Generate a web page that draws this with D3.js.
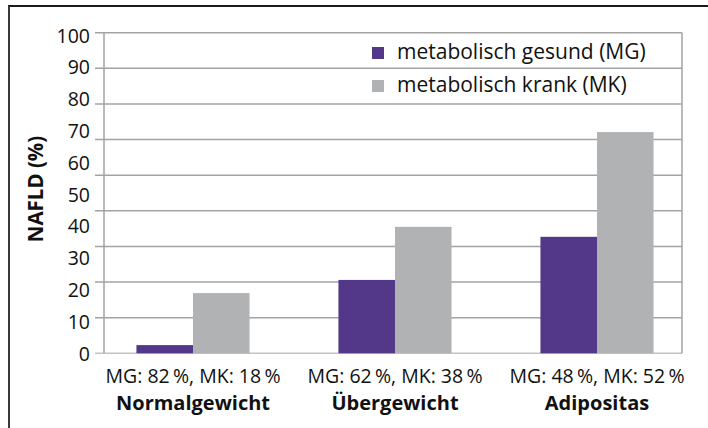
<!DOCTYPE html>
<html>
<head>
<meta charset="utf-8">
<script src="https://cdn.jsdelivr.net/npm/d3@7"></script>
<style>
	body { margin: 0; background: #fff; }
	svg { display: block; font-family: 'Open Sans', 'Noto Sans', sans-serif; }
</style>
</head>
<body>
<div id="chart"></div>
<script>
let WIDTH = 708;
let HEIGHT = 428;

let categories = ['Normalgewicht', 'Übergewicht', 'Adipositas'];
let shareLabels = ['MG: 82\u2009%, MK: 18\u2009%', 'MG: 62\u2009%, MK: 38\u2009%', 'MG: 48\u2009%, MK: 52\u2009%'];
let seriesNames = ['metabolisch gesund (MG)', 'metabolisch krank (MK)'];
let seriesColors = ['#533788', '#b1b2b4'];
let valuesMG = [2.3, 20.6, 32.7];
let valuesMK = [16.9, 35.5, 62.1];
let gridValues = [0, 10, 20, 30, 40, 50, 60, 70, 80, 90];
let tickLabels = [0, 10, 20, 30, 40, 50, 60, 70, 80, 90, 100];

let svg = d3.select('#chart').append('svg')
	.attr('width', WIDTH)
	.attr('height', HEIGHT);

// outer frame (top + left edges visible)
svg.append('line')
	.attr('x1', 8).attr('x2', WIDTH).attr('y1', 6).attr('y2', 6)
	.attr('stroke', '#1a1a1a').attr('stroke-width', 2);
svg.append('line')
	.attr('x1', 9).attr('x2', 9).attr('y1', 6).attr('y2', HEIGHT)
	.attr('stroke', '#3a3a3a').attr('stroke-width', 2);

let plotLeft = 104;
let plotRight = 682;

// bars + gridlines use the 0..90 scale, labels are spread 0..100
let y = d3.scaleLinear().domain([0, 90]).range([353.3, 32.7]);
let yLabel = d3.scaleLinear().domain([0, 100]).range([353, 35]);

let x = d3.scaleBand()
	.domain(categories)
	.range([92, 698])
	.paddingInner(0.44)
	.paddingOuter(0.22);

let xSub = d3.scaleBand()
	.domain(seriesNames)
	.range([0, x.bandwidth()]);

// gridlines with short ticks on the left
let grid = svg.append('g').attr('class', 'grid');
grid.selectAll('line')
	.data(gridValues)
	.enter().append('line')
	.attr('x1', 95)
	.attr('x2', plotRight)
	.attr('y1', (d) => y(d))
	.attr('y2', (d) => y(d))
	.attr('stroke', (d) => d === 0 ? '#c4c4c4' : '#a3a3a3')
	.attr('stroke-width', 1.5);

svg.append('line')
	.attr('x1', plotLeft).attr('x2', plotLeft)
	.attr('y1', y(90)).attr('y2', y(0))
	.attr('stroke', '#a3a3a3').attr('stroke-width', 1.5);
svg.append('line')
	.attr('x1', plotRight).attr('x2', plotRight)
	.attr('y1', y(90)).attr('y2', y(0))
	.attr('stroke', '#a3a3a3').attr('stroke-width', 1.5);

// y labels
let yAxis = d3.axisLeft(yLabel)
	.tickValues(tickLabels)
	.tickSize(0)
	.tickPadding(0);
let yg = svg.append('g')
	.attr('transform', 'translate(90,0)')
	.call(yAxis);
yg.select('.domain').remove();
yg.selectAll('text')
	.attr('font-family', "'Open Sans', sans-serif")
	.attr('font-size', 19.5)
	.attr('fill', '#111')
	.attr('dy', '0.36em');

// bars
let data = categories.map((c, i) => ({cat: c, values: [valuesMG[i], valuesMK[i]]}));
let group = svg.selectAll('.group')
	.data(data)
	.enter().append('g')
	.attr('class', 'group')
	.attr('transform', (d) => 'translate(' + x(d.cat) + ',0)');

group.selectAll('rect')
	.data((d) => d.values.map((v, j) => ({name: seriesNames[j], value: v, color: seriesColors[j]})))
	.enter().append('rect')
	.attr('x', (d) => xSub(d.name))
	.attr('width', xSub.bandwidth())
	.attr('y', (d) => y(d.value))
	.attr('height', (d) => y(0) - y(d.value))
	.attr('fill', (d) => d.color);

// category labels
svg.selectAll('.share')
	.data(categories)
	.enter().append('text')
	.attr('class', 'share')
	.attr('x', (d) => x(d) + x.bandwidth() / 2)
	.attr('y', 383)
	.attr('text-anchor', 'middle')
	.attr('font-size', 19.5)
	.attr('fill', '#111')
	.text((d, i) => shareLabels[i]);

svg.selectAll('.cat')
	.data(categories)
	.enter().append('text')
	.attr('class', 'cat')
	.attr('x', (d) => x(d) + x.bandwidth() / 2)
	.attr('y', 410)
	.attr('text-anchor', 'middle')
	.attr('font-size', 20)
	.attr('font-weight', 'bold')
	.attr('fill', '#111')
	.text((d) => d);

// y title
svg.append('text')
	.attr('transform', 'translate(43,189) rotate(-90)')
	.attr('text-anchor', 'middle')
	.attr('font-size', 20.5)
	.attr('font-weight', 'bold')
	.attr('fill', '#111')
	.text('NAFLD (%)');

// legend
let legend = svg.selectAll('.legend')
	.data(seriesNames)
	.enter().append('g')
	.attr('class', 'legend')
	.attr('transform', (d, i) => 'translate(372,' + (47 + i * 33) + ')');
legend.append('rect')
	.attr('width', 12)
	.attr('height', 12)
	.attr('fill', (d, i) => seriesColors[i]);
legend.append('text')
	.attr('x', 25)
	.attr('y', 12)
	.attr('font-size', 21)
	.attr('fill', '#111')
	.text((d) => d);
</script>
</body>
</html>
